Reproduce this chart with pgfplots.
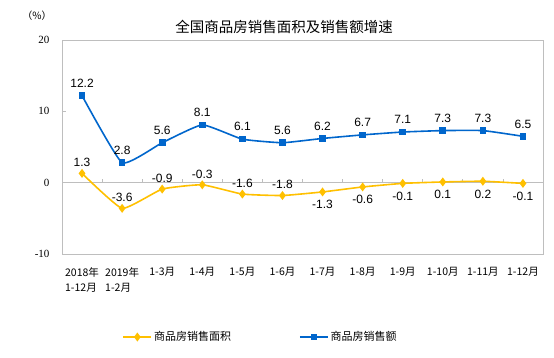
\documentclass[border=0pt]{standalone}
\usepackage{pgfplots}
\pgfplotsset{compat=1.18}
\usepackage{fontspec}
\setmainfont{Liberation Serif}
\newfontfamily\cjk{Noto Sans CJK SC}
\newfontfamily\arial{Liberation Sans}
\definecolor{cblue}{RGB}{0,102,204}
\definecolor{cyel}{RGB}{255,192,0}
\definecolor{cgray}{RGB}{190,190,190}
\begin{document}
\begin{tikzpicture}
\path[use as bounding box] (0bp,0bp) rectangle (554bp,358bp);
\begin{axis}[
  at={(62bp,104bp)}, anchor=south west,
  scale only axis, width=481bp, height=214bp,
  xmin=-0.5, xmax=11.5, ymin=-10, ymax=20,
  ytick={-10,0,10,20},
  xtick={0,...,11},
  xticklabels={{2018年\\1-12月},{2019年\\1-2月},1-3月,1-4月,1-5月,1-6月,1-7月,1-8月,1-9月,1-10月,1-11月,1-12月},
  xticklabel style={font=\cjk\fontsize{10.5bp}{15bp}\selectfont, align=left, anchor=north, yshift=-10bp},
  yticklabel style={font=\fontsize{11bp}{13bp}\selectfont, xshift=-9bp},
  /pgf/number format/assume math mode=true,
  major x tick style={draw=none},
  ytick style={cgray, line width=0.8bp},
  ytick pos=left, tick align=inside, major tick length=4bp,
  axis line style={cgray, line width=0.8bp},
  clip=false,
  legend columns=2,
  legend style={at={(0.413,-0.388)}, anchor=center, draw=none, fill=none,
    font=\cjk\fontsize{11bp}{13bp}\selectfont,
    /tikz/every even column/.append style={column sep=66bp},
    inner sep=0pt},
  legend image code/.code={\draw[mark repeat=2,mark phase=2,#1] plot coordinates {(0bp,0bp) (14bp,0bp) (28bp,0bp)};},
  every node near coord/.append style={font=\arial\fontsize{12bp}{14bp}\selectfont, text=black},
]
\draw[cgray, line width=0.8bp] (axis cs:-0.5,0) -- (axis cs:11.5,0);
\pgfplotsinvokeforeach{0.5,1.5,2.5,3.5,4.5,5.5,6.5,7.5,8.5,9.5,10.5}{
  \draw[cgray, line width=0.8bp] (axis cs:#1,0) -- (axis cs:#1,0.56);
}
\addplot[cyel, line width=1.6bp, smooth, tension=0.25, mark=diamond*, mark size=3.2bp, mark options={solid}]
  coordinates {(0,1.3) (1,-3.6) (2,-0.9) (3,-0.3) (4,-1.6) (5,-1.8) (6,-1.3) (7,-0.6) (8,-0.1) (9,0.1) (10,0.2) (11,-0.1)};
\addlegendentry{商品房销售面积}
\addplot[cblue, line width=1.6bp, smooth, tension=0.25, mark=square*, mark size=2.5bp, mark options={solid},
  nodes near coords={\pgfmathprintnumber[fixed,precision=1,fixed zerofill]{\pgfplotspointmeta}},
  nodes near coords align={above}, every node near coord/.append style={yshift=4bp}]
  coordinates {(0,12.2) (1,2.8) (2,5.6) (3,8.1) (4,6.1) (5,5.6) (6,6.2) (7,6.7) (8,7.1) (9,7.3) (10,7.3) (11,6.5)};
\addlegendentry{商品房销售额}
\addplot[draw=none, forget plot,
  nodes near coords={\pgfmathprintnumber[fixed,precision=1,fixed zerofill]{\pgfplotspointmeta}},
  nodes near coords align={above}, every node near coord/.append style={yshift=3bp}]
  coordinates {(0,1.3) (1,-3.6) (2,-0.9) (3,-0.3) (4,-1.6) (5,-1.8)};
\addplot[draw=none, forget plot,
  nodes near coords={\pgfmathprintnumber[fixed,precision=1,fixed zerofill]{\pgfplotspointmeta}},
  nodes near coords align={below}, every node near coord/.append style={yshift=-5bp}]
  coordinates {(6,-1.3) (7,-0.6) (8,-0.1) (9,0.1) (10,0.2) (11,-0.1)};
\end{axis}
\node[font=\cjk\fontsize{14.5bp}{16bp}\selectfont] at (284bp,331bp) {全国商品房销售面积及销售额增速};
\node[font=\cjk\fontsize{10bp}{12bp}\selectfont] at (37bp,342bp) {（\%）};
\end{tikzpicture}
\end{document}
